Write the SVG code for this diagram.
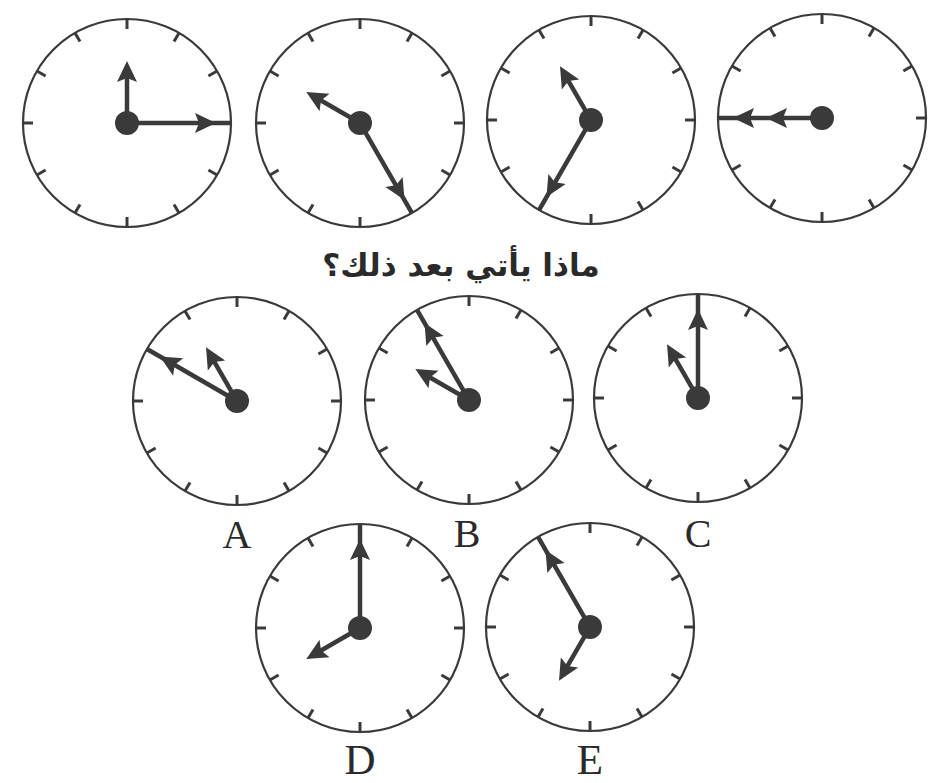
<svg xmlns="http://www.w3.org/2000/svg" xmlns:xlink="http://www.w3.org/1999/xlink" width="929" height="783" viewBox="0 0 929 783">
<style>
.rim{fill:none;stroke:#3a3a3a;stroke-width:2.2}
.tick{stroke:#3a3a3a;stroke-width:3}
.hand{stroke:#3a3a3a;stroke-width:4.5;stroke-linecap:butt}
.head{fill:#3a3a3a}
.hub{fill:#3a3a3a}
.lbl{font-family:"Liberation Serif","Times New Roman",serif;fill:#2a2a2a;text-anchor:middle}
.q{font-family:"DejaVu Sans",sans-serif;font-size:31px;font-weight:bold;fill:#2a2a2a;text-anchor:middle}
</style>
<defs>
<path id="ah" class="head" d="M0,0 L10,21 L0,17 L-10,21 Z"/>
<g id="face">
<circle class="rim" r="104"/>
<g id="tk"><line class="tick" x1="0" y1="-104" x2="0" y2="-94"/></g>
<use xlink:href="#tk" transform="rotate(30)"/>
<use xlink:href="#tk" transform="rotate(60)"/>
<use xlink:href="#tk" transform="rotate(90)"/>
<use xlink:href="#tk" transform="rotate(120)"/>
<use xlink:href="#tk" transform="rotate(150)"/>
<use xlink:href="#tk" transform="rotate(180)"/>
<use xlink:href="#tk" transform="rotate(210)"/>
<use xlink:href="#tk" transform="rotate(240)"/>
<use xlink:href="#tk" transform="rotate(270)"/>
<use xlink:href="#tk" transform="rotate(300)"/>
<use xlink:href="#tk" transform="rotate(330)"/>
</g>
<g id="longhand"><line class="hand" x1="0" y1="0" x2="0" y2="-104"/><use xlink:href="#ah" y="-89"/></g>
<g id="shorthand"><line class="hand" x1="0" y1="0" x2="0" y2="-56"/><use xlink:href="#ah" y="-62"/></g>
</defs>
<rect width="929" height="783" fill="#ffffff"/>

<g id="clock1" transform="translate(127,123)">
<use xlink:href="#face"/>
<use xlink:href="#shorthand" transform="rotate(0)"/>
<use xlink:href="#longhand" transform="rotate(90)"/>
<circle class="hub" r="12"/>
</g>
<g id="clock2" transform="translate(360,123)">
<use xlink:href="#face"/>
<use xlink:href="#shorthand" transform="rotate(300)"/>
<use xlink:href="#longhand" transform="rotate(150)"/>
<circle class="hub" r="12"/>
</g>
<g id="clock3" transform="translate(591,120)">
<use xlink:href="#face"/>
<use xlink:href="#shorthand" transform="rotate(330)"/>
<use xlink:href="#longhand" transform="rotate(210)"/>
<circle class="hub" r="12"/>
</g>
<g id="clock4" transform="translate(822,118)">
<use xlink:href="#face"/>
<use xlink:href="#longhand" transform="rotate(270)"/>
<g transform="rotate(270)"><use xlink:href="#ah" y="-56"/></g>
<circle class="hub" r="12"/>
</g>

<g id="question">
<text class="q" x="461" y="276" direction="rtl">ماذا يأتي بعد ذلك؟</text>
</g>

<g id="clockA" transform="translate(237,401)">
<use xlink:href="#face"/>
<use xlink:href="#longhand" transform="rotate(300)"/>
<use xlink:href="#shorthand" transform="rotate(330)"/>
<circle class="hub" r="12"/>
</g>
<g id="clockB" transform="translate(469,400)">
<use xlink:href="#face"/>
<use xlink:href="#longhand" transform="rotate(330)"/>
<use xlink:href="#shorthand" transform="rotate(300)"/>
<circle class="hub" r="12"/>
</g>
<g id="clockC" transform="translate(698,398)">
<use xlink:href="#face"/>
<use xlink:href="#longhand" transform="rotate(0)"/>
<use xlink:href="#shorthand" transform="rotate(330)"/>
<circle class="hub" r="12"/>
</g>
<g id="clockD" transform="translate(360,628)">
<use xlink:href="#face"/>
<use xlink:href="#longhand" transform="rotate(0)"/>
<use xlink:href="#shorthand" transform="rotate(240)"/>
<circle class="hub" r="12"/>
</g>
<g id="clockE" transform="translate(590,627)">
<use xlink:href="#face"/>
<use xlink:href="#longhand" transform="rotate(330)"/>
<use xlink:href="#shorthand" transform="rotate(210)"/>
<circle class="hub" r="12"/>
</g>

<g id="labels">
<text class="lbl" x="237" y="548" font-size="40">A</text>
<text class="lbl" x="467" y="547" font-size="40">B</text>
<text class="lbl" x="698" y="547" font-size="40">C</text>
<text class="lbl" x="360" y="774" font-size="43">D</text>
<text class="lbl" x="590" y="774" font-size="43">E</text>
</g>
</svg>
